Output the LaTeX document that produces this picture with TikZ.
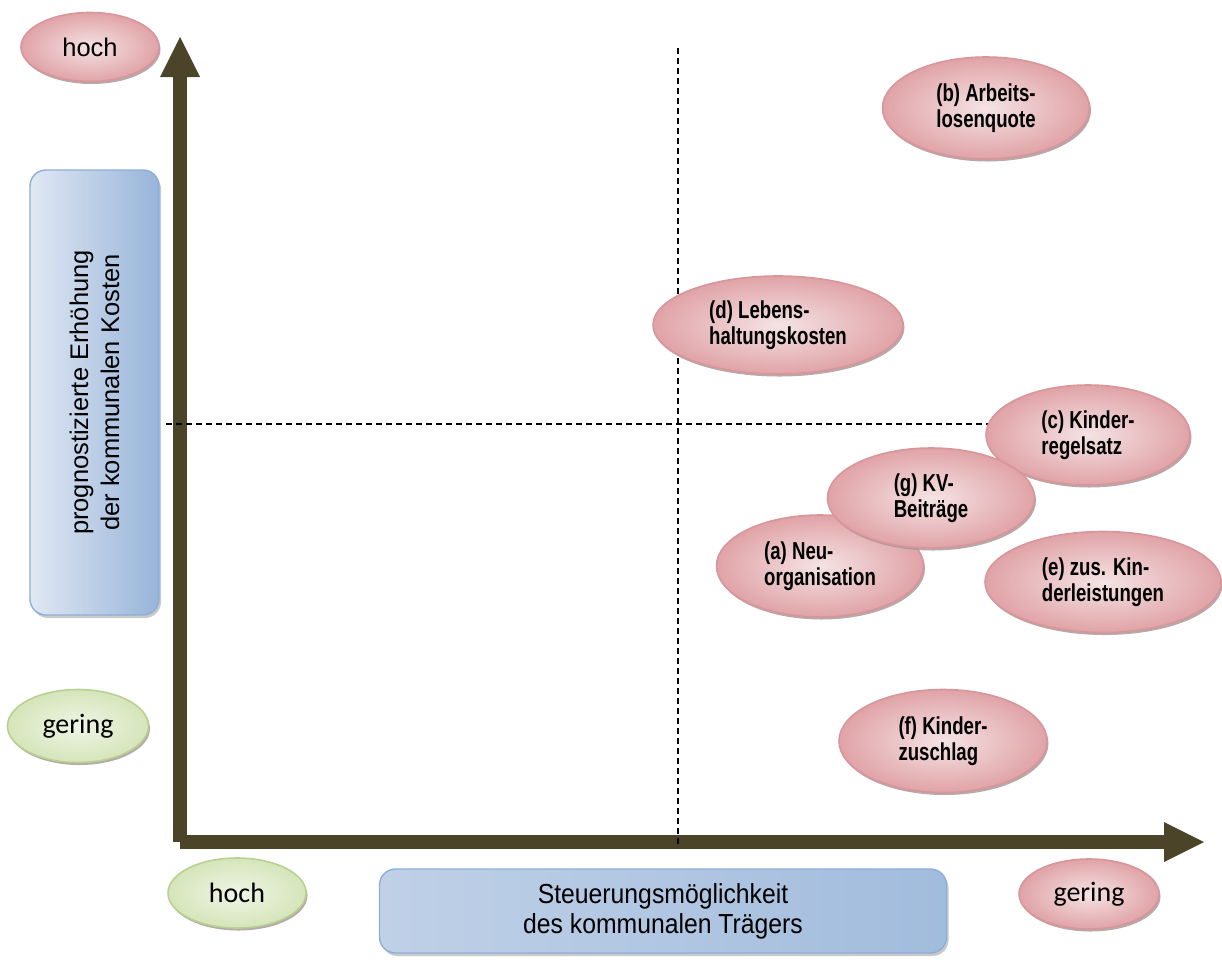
\documentclass[tikz,border=0pt]{standalone}
\usepackage{fontspec}
\setmainfont{Liberation Sans}
\newfontfamily\condbf{Liberation Sans Bold}[FakeStretch=0.76]
\newfontfamily\condrm{Liberation Sans}[FakeStretch=0.9]
\newfontfamily\calib{Carlito}
\usetikzlibrary{shapes.geometric,shadows,arrows.meta}
\definecolor{axisc}{HTML}{4B4429}
\definecolor{redb}{HTML}{D8959A}
\definecolor{redl}{HTML}{F5E3E4}
\definecolor{redd}{HTML}{E0A3A7}
\definecolor{greenb}{HTML}{B9D190}
\definecolor{greenl}{HTML}{EFF5E5}
\definecolor{greend}{HTML}{D5E5BA}
\definecolor{blueb}{HTML}{8DAED8}
\definecolor{bluel}{HTML}{E0E8F3}
\definecolor{blued}{HTML}{97B4D9}
\definecolor{shadowc}{HTML}{A89A9A}
\tikzset{
  oval/.style={ellipse, line width=1.6pt, inner sep=0pt,
    drop shadow={shadow xshift=1.5pt, shadow yshift=-2.5pt, fill=shadowc, opacity=0.85}},
  redoval/.style={oval, draw=redb, inner color=redl, outer color=redd},
  greenoval/.style={oval, draw=greenb, inner color=greenl, outer color=greend},
  item/.style={redoval, align=left, font=\condbf\fontsize{24.5}{25.5}\selectfont},
  scalelab/.style={font=\fontsize{25.5}{28}\selectfont},
  calilab/.style={font=\calib\fontsize{28}{30}\selectfont},
  bluebox/.style={rectangle, rounded corners=16pt, draw=blueb, line width=1.4pt, inner sep=0pt, align=center,
    drop shadow={shadow xshift=2pt, shadow yshift=-3pt, fill=black!35, opacity=0.6}},
  axis/.style={draw=axisc, line width=14pt, -{Triangle[length=40pt,width=40pt,line width=0pt,fill=axisc]}},
  guide/.style={draw=black, line width=1.2pt, dash pattern=on 6pt off 4pt}
}
\begin{document}
\begin{tikzpicture}[x=1pt,y=-1pt]
\useasboundingbox (0,0) rectangle (1222,959);
% axes
\coordinate (O) at (180,842);
\coordinate (Ytip) at (180,37);
\coordinate (Xtip) at (1204,842);
\draw[axis] (O) -- (Ytip);
\draw[axis] (O) -- (Xtip);
% guide lines
\coordinate (vtop) at (678,48);
\coordinate (vbot) at (678,847);
\coordinate (hl) at (166,424);
\coordinate (hr) at (1000,424);
\draw[guide] (vtop) -- (vbot);
\draw[guide] (hl) -- (hr);
% axis titles
\node[bluebox, rotate=90, left color=bluel, right color=blued, minimum width=445pt, minimum height=129pt,
  font=\fontsize{25.5}{31}\selectfont] (ylab) at (94.5,392.5) {prognostizierte Erhöhung\\der kommunalen Kosten};
\node[bluebox, left color=blued!45!bluel, middle color=bluel, right color=blued!85!bluel, minimum width=567pt, minimum height=84pt,
  font=\condrm\fontsize{27.5}{30}\selectfont] (xlab) at (663,911) {Steuerungsmöglichkeit\\des kommunalen Trägers};
% scale labels
\node[redoval, scalelab, minimum width=138pt, minimum height=69pt] (yhigh) at (90,47) {hoch};
\node[greenoval, calilab, minimum width=141pt, minimum height=73pt] (ylow) at (78,726) {gering};
\node[greenoval, calilab, minimum width=138pt, minimum height=70pt] (xhigh) at (237,893) {hoch};
\node[redoval, calilab, minimum width=140pt, minimum height=70pt] (xlow) at (1089,894) {gering};
% items
\node[item, minimum width=207pt, minimum height=102pt] (b) at (986,108) {(b) Arbeits-\\losenquote};
\node[item, minimum width=250pt, minimum height=98pt] (d) at (778,325) {(d) Lebens-\\haltungskosten};
\node[item, minimum width=204pt, minimum height=100pt] (c) at (1088,435) {(c) Kinder-\\regelsatz};
\node[item, minimum width=207pt, minimum height=102pt] (a) at (820,566) {(a) Neu-\\organisation};
\node[item, minimum width=207pt, minimum height=100pt] (g) at (931,498) {(g) KV-\\Beiträge};
\node[item, minimum width=236pt, minimum height=101pt] (e) at (1103,582) {(e) zus. Kin-\\derleistungen};
\node[item, minimum width=208pt, minimum height=103pt] (f) at (943,741) {(f) Kinder-\\zuschlag};
\end{tikzpicture}
\end{document}
